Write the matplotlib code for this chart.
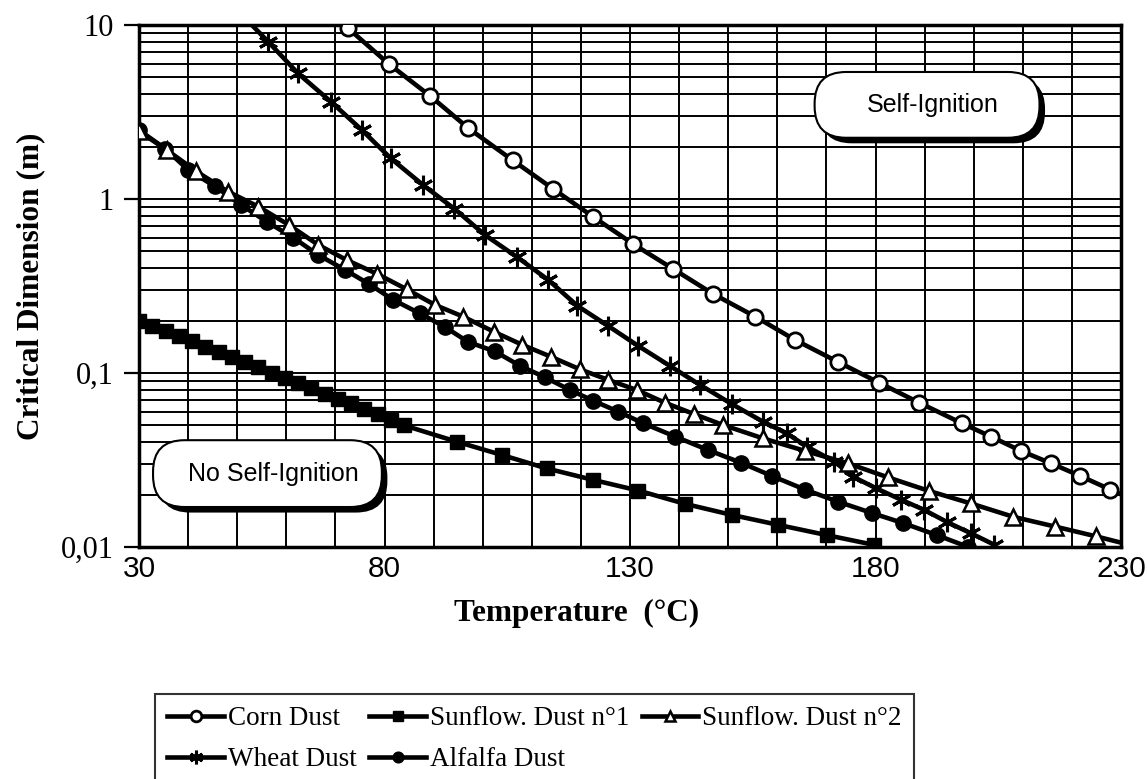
import matplotlib
matplotlib.use("Agg")
import matplotlib.pyplot as plt
import matplotlib.patheffects as pe
from matplotlib.patches import FancyBboxPatch
from matplotlib.ticker import LogLocator, NullFormatter

# values (temperature in degC, critical dimension in m)
corn_t = [66.0, 72.6, 80.9, 89.3, 97.1, 106.1, 114.4, 122.5, 130.7, 138.8, 147.0, 155.5,
          163.6, 172.3, 180.7, 188.9, 197.6, 203.6, 209.6, 215.7, 221.7, 227.8, 233.8]
corn_d = [13.9, 9.57, 5.97, 3.91, 2.55, 1.67, 1.14, 0.79, 0.55, 0.396, 0.284, 0.211,
          0.155, 0.116, 0.088, 0.0675, 0.0514, 0.043, 0.0357, 0.0303, 0.0256, 0.0214, 0.018]

wheat_t = [50.5, 56.3, 62.4, 69.2, 75.4, 81.3, 87.9, 94.2, 100.5, 106.9, 113.4, 119.3, 125.6,
           131.7, 138.1, 144.3, 150.7, 157.1, 161.9, 166.0, 171.6, 175.5, 180.2, 185.2,
           189.8, 194.6, 199.4, 204.2]
wheat_d = [11.8, 8.02, 5.27, 3.60, 2.49, 1.71, 1.20, 0.88, 0.62, 0.466, 0.342, 0.243, 0.186,
           0.143, 0.110, 0.0853, 0.0664, 0.0525, 0.045, 0.0378, 0.031, 0.0253, 0.0217, 0.0187,
           0.0164, 0.0139, 0.012, 0.0103]

sun1_t = [30.0, 32.7, 35.4, 38.1, 40.8, 43.5, 46.2, 48.9, 51.6, 54.3, 57.0, 59.7, 62.4, 65.1,
          67.8, 70.5, 73.2, 75.9, 78.6, 81.3, 84.0, 94.7, 103.9, 113.0, 122.5, 131.7, 141.2,
          150.7, 160.2, 170.1, 179.6]
sun1_d = [0.200, 0.187, 0.174, 0.163, 0.152, 0.142, 0.132, 0.124, 0.115, 0.108, 0.100, 0.094,
          0.088, 0.082, 0.076, 0.071, 0.067, 0.062, 0.058, 0.054, 0.050, 0.0403, 0.0338,
          0.0283, 0.0243, 0.0211, 0.0177, 0.0153, 0.0134, 0.0117, 0.0103]

sun2_t = [30.0, 35.8, 41.7, 48.2, 54.3, 60.5, 66.5, 72.3, 78.5, 84.5, 90.3, 96.0, 102.2, 108.1,
          113.9, 119.8, 125.6, 131.4, 137.1, 143.1, 149.0, 157.1, 165.6, 174.3, 182.6, 190.9,
          199.4, 208.1, 216.6, 225.0, 233.5]
sun2_d = [2.45, 1.90, 1.44, 1.10, 0.904, 0.710, 0.545, 0.446, 0.371, 0.303, 0.246, 0.211,
          0.173, 0.145, 0.124, 0.105, 0.0912, 0.0798, 0.0675, 0.058, 0.0502, 0.0421, 0.0357,
          0.0303, 0.0251, 0.0210, 0.0178, 0.0149, 0.0131, 0.0115, 0.0100]

alfalfa_t = [30.0, 35.3, 40.0, 45.5, 50.8, 56.0, 61.4, 66.5, 72.0, 76.9, 81.8, 87.2, 92.3,
             97.0, 102.5, 107.6, 112.7, 117.8, 122.5, 127.6, 132.7, 139.2, 145.9, 152.6,
             158.9, 165.6, 172.4, 179.2, 185.7, 192.5, 198.9]
alfalfa_d = [2.49, 1.95, 1.47, 1.18, 0.925, 0.741, 0.600, 0.477, 0.391, 0.324, 0.263, 0.220,
             0.184, 0.151, 0.133, 0.110, 0.0944, 0.0798, 0.0693, 0.060, 0.0514, 0.0431, 0.0361,
             0.0305, 0.0256, 0.0214, 0.0182, 0.0157, 0.0137, 0.0117, 0.0100]

x_ticks = [30, 80, 130, 180, 230]
y_ticks = [0.01, 0.1, 1, 10]
y_tick_labels = ["0,01", "0,1", "1", "10"]

SERIF = ["Liberation Serif", "DejaVu Serif"]
SANS = ["Liberation Sans", "DejaVu Sans"]

fig = plt.figure(figsize=(11.47, 7.79), dpi=100)
ax = fig.add_axes([139 / 1147, 1 - 547 / 779, 982 / 1147, 522 / 779])

ax.set_yscale("log")
ax.set_xlim(30, 230)
ax.set_ylim(0.01, 10)

ax.set_xticks(x_ticks)
ax.set_xticks(range(30, 231, 10), minor=True)
ax.set_xticklabels([str(t) for t in x_ticks], family=SANS, fontsize=21.5)
ax.set_yticks(y_ticks)
ax.set_yticklabels(y_tick_labels, family=SERIF, fontsize=22)
ax.yaxis.set_minor_locator(LogLocator(base=10, subs=range(2, 10)))
ax.yaxis.set_minor_formatter(NullFormatter())

ax.grid(which="both", color="black", lw=1.4)
ax.set_axisbelow(True)
ax.tick_params(axis="x", which="both", length=0, pad=6)
ax.tick_params(axis="y", which="major", length=11, width=1.6, pad=7)
ax.tick_params(axis="y", which="minor", length=0)
for sp in ax.spines.values():
    sp.set_linewidth(2.5)

lw = 3.3
h_corn, = ax.plot(corn_t, corn_d, color="black", lw=lw, marker="o", ms=11,
                  mfc="white", mec="black", mew=2, label="Corn Dust", zorder=4)
h_wheat, = ax.plot(wheat_t, wheat_d, color="black", lw=lw, marker=(6, 2, 0), ms=14,
                   mec="black", mew=2.2, label="Wheat Dust", zorder=4)
h_sun1, = ax.plot(sun1_t, sun1_d, color="black", lw=lw, marker="s", ms=10,
                  mfc="black", mec="black", label="Sunflow. Dust n°1", zorder=4)
h_alf, = ax.plot(alfalfa_t, alfalfa_d, color="black", lw=lw, marker="o", ms=11,
                 mfc="black", mec="black", label="Alfalfa Dust", zorder=4)
h_sun2, = ax.plot(sun2_t, sun2_d, color="black", lw=lw, marker="^", ms=11,
                  mfc="white", mec="black", mew=1.8, label="Sunflow. Dust n°2", zorder=4)

# rounded annotation boxes with a drop shadow
asp = 982 / 522
for (x0, y0, w, h, txt) in [(0.688, 0.784, 0.229, 0.126, "Self-Ignition"),
                            (0.0143, 0.0766, 0.233, 0.128, "No Self-Ignition")]:
    box = FancyBboxPatch((x0, y0), w, h, boxstyle="round,pad=0,rounding_size=0.032",
                         mutation_aspect=asp, transform=ax.transAxes, fc="white",
                         ec="black", lw=1.5, zorder=6, clip_on=False)
    box.set_path_effects([pe.SimplePatchShadow(offset=(4, -4), shadow_rgbFace="black", alpha=1.0),
                          pe.Normal()])
    ax.add_patch(box)
    ax.text(x0 + w / 2 + 0.006, y0 + h / 2, txt, transform=ax.transAxes, ha="center",
            va="center", family=SANS, fontsize=18, zorder=7)

ax.set_xlabel("Temperature  (°C)", family=SERIF, fontsize=22.5, fontweight="bold")
ax.xaxis.set_label_coords(0.446, -0.100)
ax.set_ylabel("Critical Dimension (m)", family=SERIF, fontsize=22.5, fontweight="bold")
ax.yaxis.set_label_coords(-0.095, 0.5)

leg = fig.legend([h_corn, h_wheat, h_sun1, h_alf, h_sun2],
                 ["Corn Dust", "Wheat Dust", "Sunflow. Dust n°1", "Alfalfa Dust", "Sunflow. Dust n°2"],
                 loc="upper left", bbox_to_anchor=(155 / 1147, 1 - 694 / 779), ncol=3,
                 prop={"family": SERIF, "size": 19.5}, frameon=True, fancybox=False,
                 edgecolor="black", handlelength=2.1, handletextpad=0.15, columnspacing=0.45,
                 labelspacing=0.6, borderpad=0.45, borderaxespad=0, markerscale=0.7)
leg.get_frame().set_linewidth(1.5)

fig.savefig("out.png", dpi=100)
